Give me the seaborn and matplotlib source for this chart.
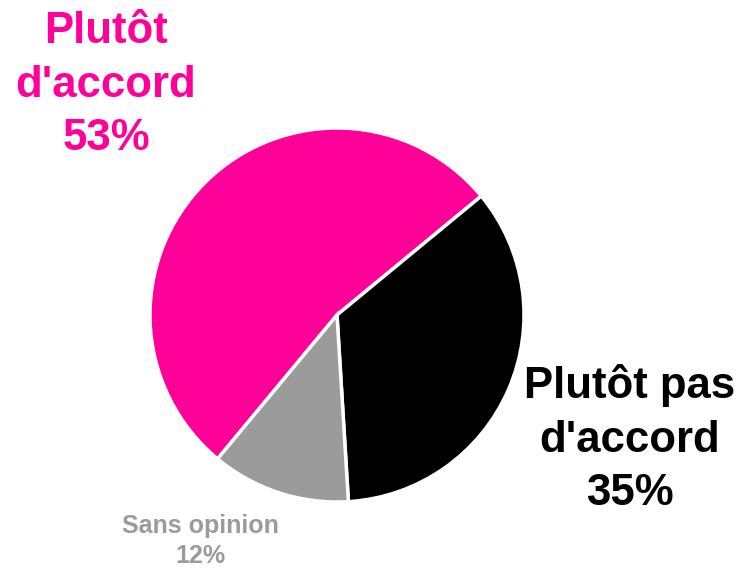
import matplotlib
matplotlib.use("Agg")
import matplotlib.pyplot as plt
import seaborn as sns

# Survey answers
categories = ["Plutôt d'accord", "Plutôt pas d'accord", "Sans opinion"]
shares = [53, 35, 12]
label_texts = ["Plutôt\nd'accord\n53%", "Plutôt pas\nd'accord\n35%", "Sans opinion\n12%"]
colors = ["#FF0099", "#000000", "#9B9B9B"]

sns.set_theme(style="white")
plt.rcParams["font.family"] = ["Liberation Sans", "DejaVu Sans"]

W, H = 740, 569
fig = plt.figure(figsize=(W / 100, H / 100), dpi=100)
ax = fig.add_axes([0, 0, 1, 1])

ax.pie(shares, colors=colors, startangle=230.3, counterclock=False,
       center=(337, H - 315), radius=187,
       wedgeprops=dict(edgecolor="white", linewidth=2.5), frame=True)
ax.set_xlim(0, W)
ax.set_ylim(0, H)
ax.set_aspect("equal")
ax.axis("off")

# labels placed around the pie
ax.text(106, H - 85, label_texts[0], color=colors[0], fontsize=31.5, fontweight="bold",
        ha="center", va="center", linespacing=1.4)
ax.text(630, H - 439, label_texts[1], color=colors[1], fontsize=31.5, fontweight="bold",
        ha="center", va="center", linespacing=1.4)
ax.text(200, H - 541, label_texts[2], color=colors[2], fontsize=18, fontweight="bold",
        ha="center", va="center", linespacing=1.35)

fig.savefig("out.png", dpi=100, facecolor="white")
